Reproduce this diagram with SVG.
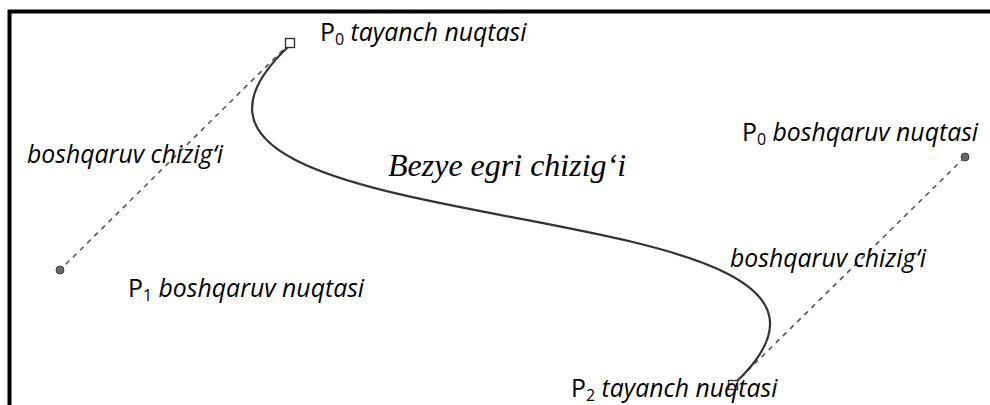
<svg xmlns="http://www.w3.org/2000/svg" width="990" height="405" viewBox="0 0 990 405">
<style>
.lbl{font-family:"Open Sans","Noto Sans",sans-serif;font-size:24.8px;fill:#000}
.it{font-style:italic}
.sub{font-size:16px}
.ser{font-family:"Liberation Serif","Times New Roman",serif;font-size:32px;font-style:italic;fill:#000}
.ctl{stroke:#555;stroke-width:1.6;stroke-dasharray:5 5;fill:none}
.dot{fill:#666;stroke:#444;stroke-width:1}
.anc{fill:#fff;stroke:#333;stroke-width:1.4}
</style>
<rect x="0" y="0" width="990" height="405" fill="#fff"/>
<rect x="9.5" y="11.5" width="1000" height="500" fill="none" stroke="#000" stroke-width="4"/>
<g id="connectors">
<line class="ctl" x1="290" y1="43" x2="60" y2="270"/>
<line class="ctl" x1="733" y1="385" x2="965" y2="157"/>
<path id="bezier-curve" d="M290,45 C60,260 960,175 733,385" fill="none" stroke="#333" stroke-width="2.2"/>
</g>
<g id="p0-anchor"><rect class="anc" x="285.5" y="38.5" width="9" height="9"/></g>
<g id="p2-anchor"><rect class="anc" x="728.5" y="380.5" width="9" height="9"/></g>
<g id="p1-control"><circle class="dot" cx="60" cy="270" r="4"/></g>
<g id="p0-control"><circle class="dot" cx="965" cy="157" r="4"/></g>
<g id="labels">
<text class="lbl" x="320" y="41">P<tspan class="sub" dy="4">0</tspan><tspan dy="-4" class="it"> tayanch nuqtasi</tspan></text>
<text class="lbl it" x="27" y="163">boshqaruv chizig‘i</text>
<text class="ser" x="388" y="176">Bezye egri chizig‘i</text>
<text class="lbl" x="742" y="141">P<tspan class="sub" dy="4">0</tspan><tspan dy="-4" class="it"> boshqaruv nuqtasi</tspan></text>
<text class="lbl it" x="730" y="267">boshqaruv chizig‘i</text>
<text class="lbl" x="128" y="297">P<tspan class="sub" dy="4">1</tspan><tspan dy="-4" class="it"> boshqaruv nuqtasi</tspan></text>
<text class="lbl" x="571" y="397">P<tspan class="sub" dy="4">2</tspan><tspan dy="-4" class="it"> tayanch nuqtasi</tspan></text>
</g>
</svg>
